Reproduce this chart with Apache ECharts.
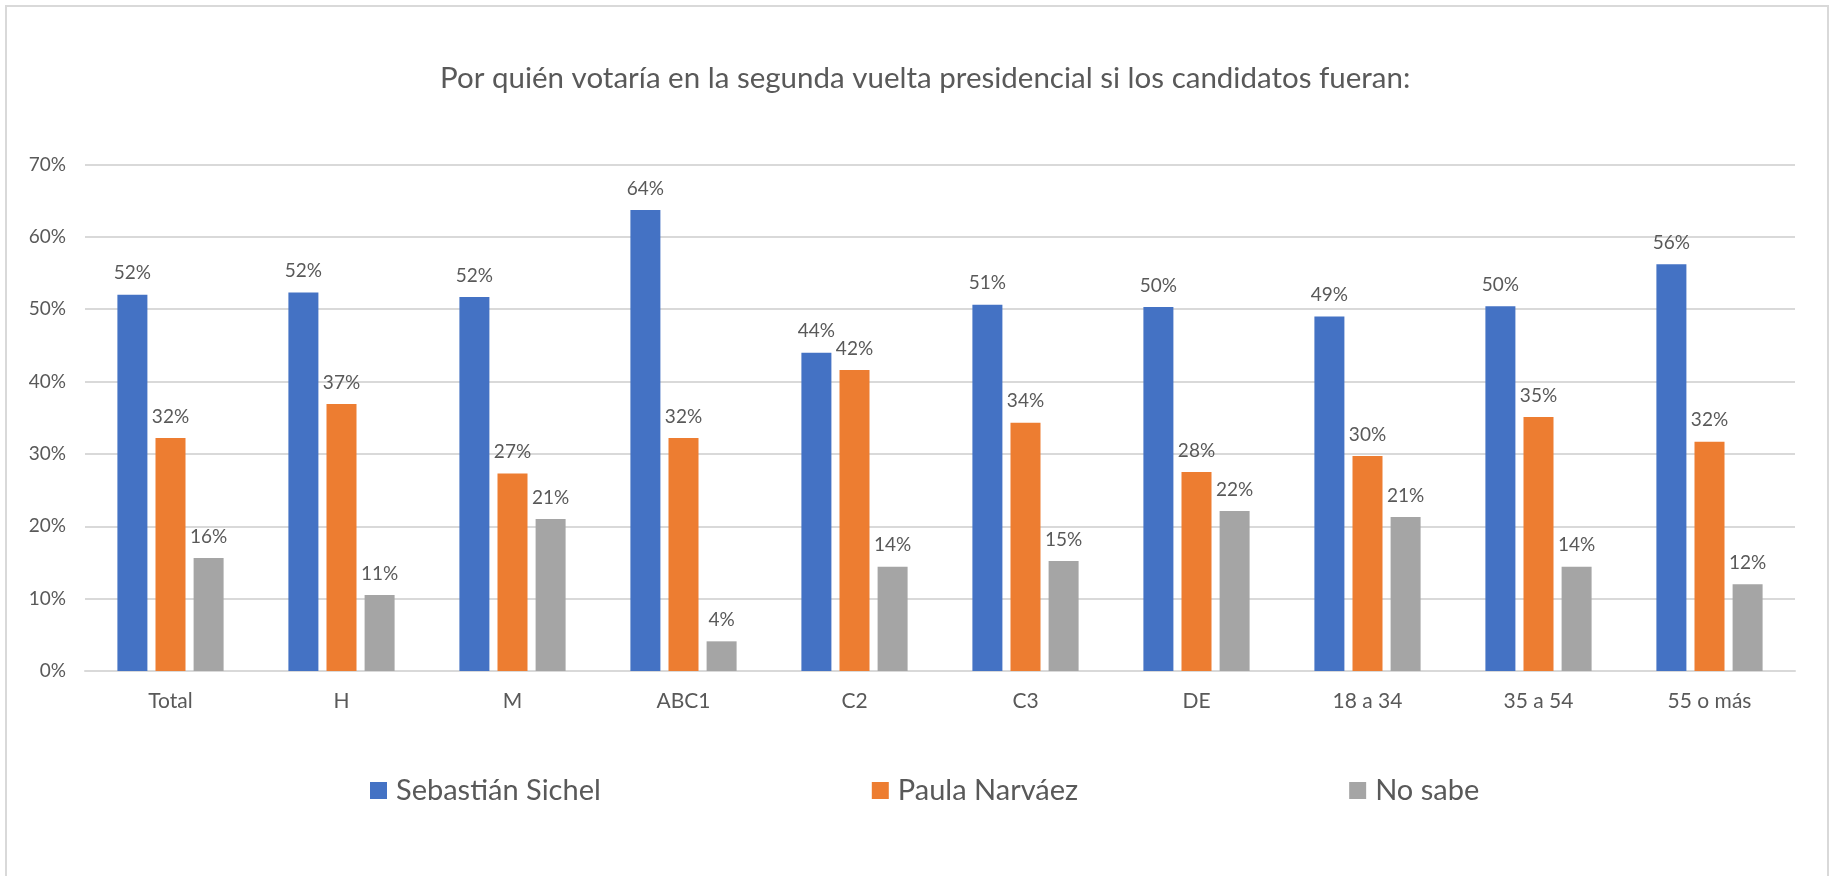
<!DOCTYPE html>
<html>
<head>
<meta charset="utf-8">
<script src="https://cdn.jsdelivr.net/npm/echarts@6/dist/echarts.min.js"></script>
<style>
html,body{margin:0;padding:0;background:#fff;}
#chart{width:1829px;height:876px;}
</style>
</head>
<body>
<div id="chart"></div>
<script>
var categories = ['Total', 'H', 'M', 'ABC1', 'C2', 'C3', 'DE', '18 a 34', '35 a 54', '55 o más'];
var seriesNames = ['Sebastián Sichel', 'Paula Narváez', 'No sabe'];
var sichel = [52.0, 52.3, 51.7, 63.7, 44.0, 50.6, 50.3, 49.0, 50.4, 56.2];
var narvaez = [32.2, 36.9, 27.3, 32.2, 41.6, 34.3, 27.5, 29.7, 35.1, 31.7];
var noSabe = [15.6, 10.5, 21.0, 4.1, 14.4, 15.2, 22.1, 21.3, 14.4, 12.0];
var yTicks = { min: 0, max: 70, interval: 10 };
var titleText = 'Por quién votaría en la segunda vuelta presidencial si los candidatos fueran:';

var colors = ['#4472C4', '#ED7D31', '#A5A5A5'];
var FONT = 'Lato, "Noto Sans", sans-serif';
var TXT = '#595959';

var chart = echarts.init(document.getElementById('chart'), null, { renderer: 'canvas' });

function barSeries(name, data, color) {
  return {
    name: name,
    type: 'bar',
    data: data,
    barWidth: 30,
    barGap: '27%',
    itemStyle: { color: color },
    label: {
      show: true,
      position: 'top',
      distance: 12,
      color: TXT,
      fontSize: 19,
      fontFamily: FONT,
      formatter: function (p) { return Math.round(p.value) + '%'; }
    }
  };
}

chart.setOption({
  backgroundColor: '#ffffff',
  animation: false,
  color: colors,
  title: {
    text: titleText,
    left: 435,
    top: 58,
    textStyle: { color: TXT, fontSize: 29.5, fontWeight: 'normal', fontFamily: FONT }
  },
  graphic: [{
    type: 'rect',
    shape: { x: 6, y: 6, width: 1822, height: 900 },
    style: { fill: null, stroke: '#d9d9d9', lineWidth: 2 },
    silent: true
  }],
  legend: {
    data: seriesNames,
    left: 365,
    top: 771,
    icon: 'rect',
    itemWidth: 17,
    itemHeight: 17,
    itemGap: 271,
    textStyle: { color: TXT, fontSize: 29, fontFamily: FONT, padding: [0, 0, 0, 4] }
  },
  grid: { left: 85, right: 34, top: 164.5, bottom: 205, containLabel: false },
  xAxis: {
    type: 'category',
    data: categories,
    axisLine: { show: true, lineStyle: { color: '#d9d9d9', width: 2 } },
    axisTick: { show: false },
    axisLabel: { color: TXT, fontSize: 21, fontFamily: FONT, margin: 20 }
  },
  yAxis: {
    type: 'value',
    min: yTicks.min,
    max: yTicks.max,
    interval: yTicks.interval,
    axisLine: { show: false },
    axisTick: { show: false },
    splitLine: { lineStyle: { color: '#d9d9d9', width: 2 } },
    axisLabel: { color: TXT, fontSize: 19, fontFamily: FONT, margin: 19, formatter: '{value}%' }
  },
  series: [
    barSeries(seriesNames[0], sichel, colors[0]),
    barSeries(seriesNames[1], narvaez, colors[1]),
    barSeries(seriesNames[2], noSabe, colors[2])
  ]
});
</script>
</body>
</html>
